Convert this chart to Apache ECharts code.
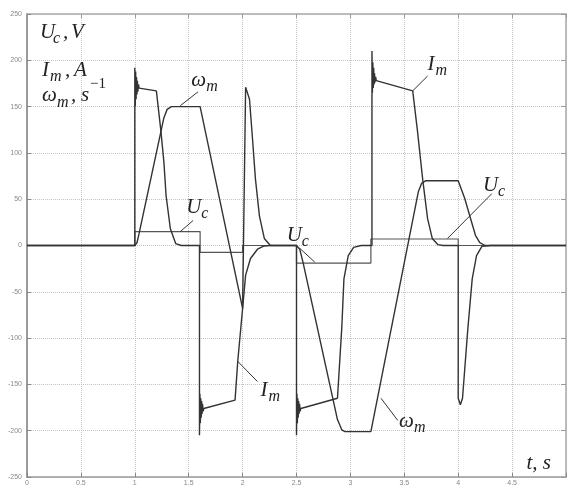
<!DOCTYPE html>
<html><head><meta charset="utf-8">
<script src="https://cdn.jsdelivr.net/npm/echarts@6/dist/echarts.min.js"></script>
<style>html,body{margin:0;padding:0;background:#fff}#c{width:569px;height:487px}</style>
</head><body><div id="c"></div>
<script>
// ---- data (t in s, value) ----
const xTicks = [0, 0.5, 1, 1.5, 2, 2.5, 3, 3.5, 4, 4.5];
const yTicks = [250, 200, 150, 100, 50, 0, -50, -100, -150, -200, -250];

const imData = [
  [0,0],[1.0,0],[1.0,192],[1.004,150],[1.008,188],[1.012,158],[1.016,182],[1.02,163],[1.024,178],[1.028,166],[1.034,174],[1.04,170],
  [1.2,167],[1.24,126],[1.27,90],[1.29,54],[1.33,18],[1.38,2],[1.43,0],
  [1.6,0],[1.6,-205],[1.604,-160],[1.608,-192],[1.612,-165],[1.616,-186],[1.62,-168],[1.624,-182],[1.628,-171],[1.634,-179],[1.64,-176],
  [1.93,-167],[1.955,-125],[2.0,-68],[2.015,60],[2.028,171],[2.064,158],[2.092,115],[2.119,72],[2.156,32],[2.202,7.5],[2.257,0],
  [2.5,0],[2.5,-205],[2.504,-160],[2.508,-192],[2.512,-165],[2.516,-186],[2.52,-168],[2.524,-182],[2.528,-171],[2.534,-179],[2.54,-176],
  [2.88,-165],[2.92,-89],[2.94,-36],[2.98,-11],[3.03,-2],[3.1,0],
  [3.2,0],[3.2,210],[3.204,165],[3.208,198],[3.212,170],[3.216,192],[3.22,174],[3.224,186],[3.228,176],[3.234,182],[3.24,178],
  [3.578,167],[3.62,126],[3.67,72],[3.716,29],[3.76,7.5],[3.81,1],[3.86,0],
  [4.0,0],[4.0,-165],[4.02,-172],[4.04,-165],[4.09,-89],[4.13,-36],[4.17,-11],[4.22,-1],[4.3,0],[5,0]
];
const omegaData = [
  [0,0],[1.0,0],[1.02,3],[1.04,13],[1.27,138],[1.3,147],[1.34,150],[1.606,150],
  [2.0,-68],[2.028,-32],[2.073,-14],[2.138,-4],[2.2,-0.5],[2.26,0],
  [2.5,0],[2.53,-4],[2.56,-18],[2.88,-188],[2.92,-199],[2.95,-201],[3.19,-201],
  [3.63,58],[3.66,67],[3.7,70],[4.0,70],[4.06,51],[4.12,27],[4.16,11],[4.2,3],[4.25,0],[5,0]
];
const ucData = [
  [0,0],[1,0],[1,15],[1.606,15],[1.606,-7.5],[2.0,-7.5],[2.0,0],[2.5,0],[2.5,-19],[3.19,-19],[3.19,7],[4.0,7],[4.0,0],[5,0]
];

// annotation anchors (data coords) and pointer segments
const annLabels = [
  {at:[1.523,171], base:'ω', sub:'m'},
  {at:[1.477,34.5], base:'U', sub:'c'},
  {at:[2.165,-163], base:'I', sub:'m'},
  {at:[2.41,4], base:'U', sub:'c'},
  {at:[3.716,189], base:'I', sub:'m'},
  {at:[4.229,58], base:'U', sub:'c'},
  {at:[3.45,-197], base:'ω', sub:'m'}
];
const annPointers = [
  [[1.587,166],[1.422,151]],
  [[1.541,27],[1.422,15]],
  [[2.138,-147],[1.954,-125]],
  [[2.53,-3],[2.67,-18]],
  [[3.716,183],[3.578,167]],
  [[4.312,56],[3.9,7.5]],
  [[3.44,-189],[3.284,-165]]
];
const tLabelAt = [4.633,-242];

// ---- chart ----
const chart = echarts.init(document.getElementById('c'));
const SERIF = '"Liberation Serif","DejaVu Serif",serif';
const lineColor = '#333';
function mk(name, data, color, w){
  return {name, type:'line', data, showSymbol:false, symbol:'none', animation:false,
    lineStyle:{color, width:w}, xAxisIndex:0, yAxisIndex:0, z:3};
}
chart.setOption({
  animation:false,
  grid:{left:27, right:-2, top:14, bottom:7, containLabel:false},
  xAxis:[
    {type:'value', min:0, max:5, interval:0.5, position:'bottom',
     axisLine:{show:true, onZero:false, lineStyle:{color:'#9a9a9a', width:1.5}},
     axisTick:{show:true, inside:true, length:4, lineStyle:{color:'#888'}},
     axisLabel:{fontSize:7, color:'#888', margin:3,
       formatter:v=> xTicks.indexOf(+v.toFixed(2))>=0 ? String(+v.toFixed(2)) : ''},
     splitLine:{show:true, lineStyle:{type:'dotted', color:'#c4c4c4'}}},
    {type:'value', min:0, max:5, interval:0.5, position:'top',
     axisLine:{show:true, onZero:false, lineStyle:{color:'#aaa', width:1.5}},
     axisTick:{show:true, inside:true, length:4, lineStyle:{color:'#999'}},
     axisLabel:{show:false}, splitLine:{show:false}}
  ],
  yAxis:[
    {type:'value', min:-250, max:250, interval:50, position:'left',
     axisLine:{show:true, onZero:false, lineStyle:{color:'#9a9a9a', width:2}},
     axisTick:{show:true, inside:true, length:4, lineStyle:{color:'#888'}},
     axisLabel:{fontSize:7, color:'#888', margin:5,
       formatter:v=> yTicks.indexOf(v)>=0 ? String(v) : ''},
     splitLine:{show:true, lineStyle:{type:'dotted', color:'#c4c4c4'}}},
    {type:'value', min:-250, max:250, interval:50, position:'right',
     axisLine:{show:true, onZero:false, lineStyle:{color:'#aaa', width:1.5}},
     axisTick:{show:true, inside:true, length:5, lineStyle:{color:'#999'}},
     axisLabel:{show:false}, splitLine:{show:false}}
  ],
  series:[
    mk('Uc', ucData, '#555', 1.2),
    mk('omega', omegaData, lineColor, 1.4),
    mk('Im', imData, lineColor, 1.4)
  ]
});

// ---- text annotations ----
function txt(x, baseline, str, size, italic){
  return {type:'text', x:x, y:baseline - 0.305*size, z:10, silent:true,
    style:{text:str, fontSize:size, fontFamily:SERIF, fontStyle: italic?'italic':'normal',
      fill:'#222', verticalAlign:'middle', align:'left'}};
}
const els = [];
// top-left axis legend
els.push(txt(40,39,'U',21,true), txt(53,44,'c',16,true), txt(63,39,',',21,true), txt(71,39,'V',21,true));
els.push(txt(42,77,'I',21,true), txt(50,82,'m',16,true), txt(65,77,',',21,true), txt(74,77,'A',21,true));
els.push(txt(42,102,'ω',21,true), txt(57,108,'m',16,true), txt(71,102,',',21,true), txt(81,102,'s',21,true), txt(90,89,'−1',15,false));
// curve labels
annLabels.forEach(a=>{
  const p = chart.convertToPixel({gridIndex:0}, a.at);
  const w = a.base==='I' ? 8 : 15;
  els.push(txt(p[0], p[1], a.base, 21, true));
  els.push(txt(p[0]+w, p[1]+5, a.sub, 16, true));
});
annPointers.forEach(s=>{
  const a = chart.convertToPixel({gridIndex:0}, s[0]);
  const b = chart.convertToPixel({gridIndex:0}, s[1]);
  els.push({type:'line', z:9, silent:true, shape:{x1:a[0],y1:a[1],x2:b[0],y2:b[1]},
    style:{stroke:'#333', lineWidth:1}});
});
const tp = chart.convertToPixel({gridIndex:0}, tLabelAt);
els.push(txt(tp[0], tp[1], 't, s', 21, true));
chart.setOption({graphic:{elements:els}});
</script>
</body></html>
